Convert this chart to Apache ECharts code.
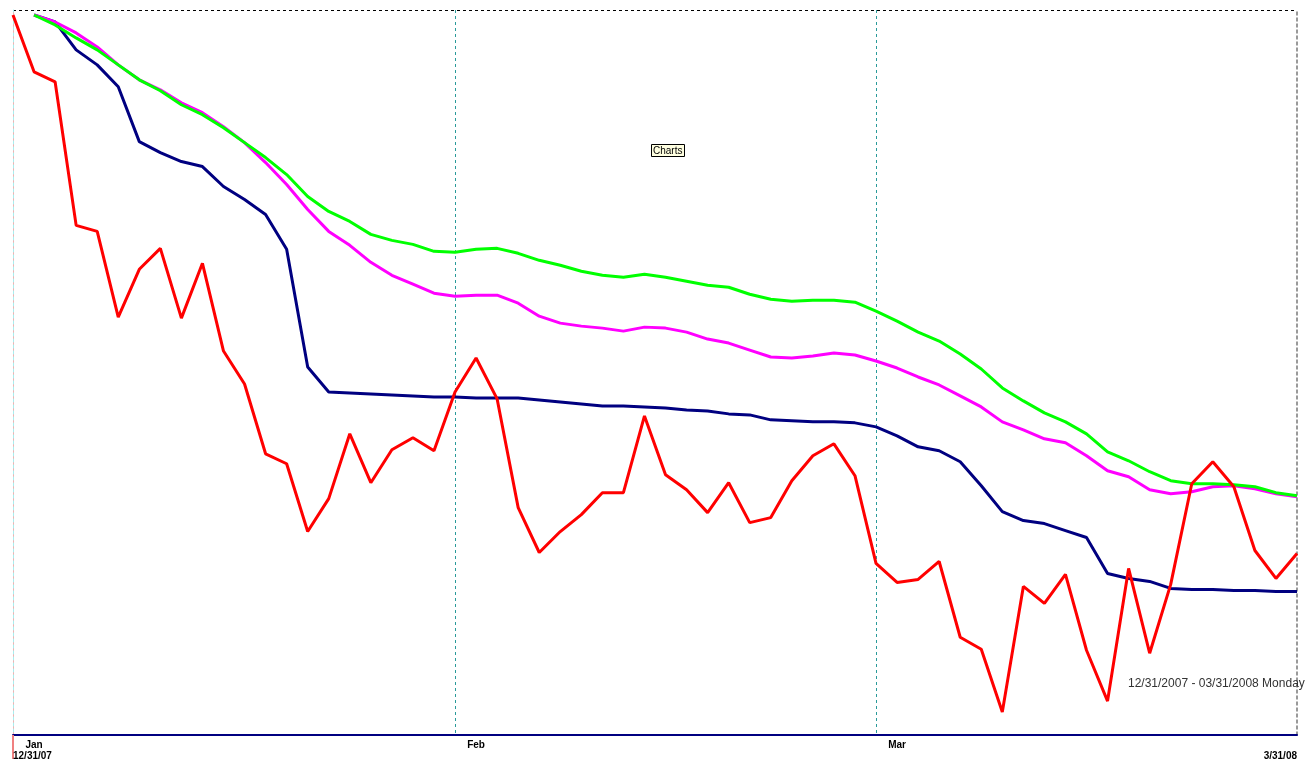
<!DOCTYPE html>
<html>
<head>
<meta charset="utf-8">
<script src="https://cdn.jsdelivr.net/npm/echarts@6/dist/echarts.min.js"></script>
<style>
  html, body { margin: 0; padding: 0; background: #ffffff; }
  #chart { width: 1305px; height: 761px; }
</style>
</head>
<body>
<div id="chart"></div>
<script>
// Trading days 12/31/2007 - 03/31/2008
const tradingDays = [
  '12/31/07',
  '1/2/08','1/3/08','1/4/08','1/7/08','1/8/08','1/9/08','1/10/08','1/11/08','1/14/08','1/15/08',
  '1/16/08','1/17/08','1/18/08','1/22/08','1/23/08','1/24/08','1/25/08','1/28/08','1/29/08','1/30/08','1/31/08',
  '2/1/08','2/4/08','2/5/08','2/6/08','2/7/08','2/8/08','2/11/08','2/12/08','2/13/08','2/14/08',
  '2/15/08','2/19/08','2/20/08','2/21/08','2/22/08','2/25/08','2/26/08','2/27/08','2/28/08','2/29/08',
  '3/3/08','3/4/08','3/5/08','3/6/08','3/7/08','3/10/08','3/11/08','3/12/08','3/13/08','3/14/08',
  '3/17/08','3/18/08','3/19/08','3/20/08','3/24/08','3/25/08','3/26/08','3/27/08','3/28/08','3/31/08'
];

// Month labels (first trading day of each month) and month-end separators
const monthLabels = { 1: 'Jan', 22: 'Feb', 42: 'Mar' };
const monthEndIdx = [21, 41];
const firstDateLabel = '12/31/07';
const lastDateLabel = '3/31/08';
const rangeLabel = '12/31/2007 - 03/31/2008 Monday';
const boxLabel = 'Charts';

// Series values (arbitrary index units; no y scale shown)
const redValues = [722, 665, 655, 511, 505, 419, 467, 488, 418, 473, 385, 352, 282, 272, 204, 237, 302, 253, 286, 298, 285,
  344, 378, 337, 228, 183, 204, 221, 243, 243, 320, 261, 246, 223, 253, 213, 218, 255, 280, 292, 260,
  172, 153, 156, 174, 98, 86, 23, 149, 132, 161, 85, 34, 167, 82, 151, 252, 274, 249, 185, 157, 182];

const navyValues = [null, 722, 715, 687, 672, 650, 595, 584, 575, 570, 550, 537, 522, 487, 369, 344, 343, 342, 341, 340, 339,
  339, 338, 338, 338, 336, 334, 332, 330, 330, 329, 328, 326, 325, 322, 321, 316, 315, 314, 314, 313,
  309, 300, 289, 285, 274, 250, 224, 215, 212, 205, 198, 162, 157, 154, 147, 146, 146, 145, 145, 144, 144];

const greenValues = [null, 722, 712, 699, 687, 672, 657, 646, 632, 622, 609, 594, 579, 562, 540, 525, 515, 502, 496, 492, 485,
  484, 487, 488, 483, 476, 471, 465, 461, 459, 462, 459, 455, 451, 449, 442, 437, 435, 436, 436, 434,
  425, 415, 404, 395, 382, 367, 348, 335, 323, 314, 302, 284, 275, 264, 255, 252, 252, 251, 249, 243, 240];

const magentaValues = [null, 722, 715, 704, 690, 672, 657, 647, 634, 624, 610, 594, 574, 552, 527, 505, 491, 474, 461, 452, 443,
  440, 441, 441, 433, 420, 413, 410, 408, 405, 409, 408, 404, 397, 393, 386, 379, 378, 380, 383, 381,
  375, 368, 359, 351, 340, 329, 314, 306, 297, 293, 280, 265, 259, 246, 242, 244, 249, 250, 247, 242, 239];

const yMax = 727;

const chart = echarts.init(document.getElementById('chart'), null, { renderer: 'canvas' });
const font = 'Liberation Sans, Arial, sans-serif';
const lineW = 3;

function lineSeries(name, data, color) {
  return {
    name: name, type: 'line', data: data, xAxisIndex: 0, yAxisIndex: 0,
    symbol: 'none', showSymbol: false, connectNulls: false,
    lineStyle: { color: color, width: lineW }, itemStyle: { color: color },
    emphasis: { disabled: true }, silent: true
  };
}

const option = {
  animation: false,
  backgroundColor: '#ffffff',
  textStyle: { fontFamily: font },
  title: [
    {
      text: boxLabel, left: 651, top: 144, padding: [2, 2, 1, 2],
      backgroundColor: '#ffffe1', borderColor: '#000000', borderWidth: 1,
      textStyle: { fontSize: 10, fontWeight: 'normal', color: '#000000', fontFamily: font }
    },
    {
      text: rangeLabel, left: 1128, top: 678, padding: 0,
      textStyle: { fontSize: 12, fontWeight: 'normal', color: '#333333', fontFamily: font }
    }
  ],
  grid: { left: 13, right: 8, top: 10, bottom: 24, containLabel: false },
  xAxis: [
    {
      type: 'category', data: tradingDays, boundaryGap: false, position: 'bottom',
      axisLine: { show: true, lineStyle: { color: '#000080', width: 2 } },
      axisTick: { show: true, interval: (i) => i === 0, length: 24, lineStyle: { color: '#f08080', width: 2 } },
      axisLabel: {
        show: true, interval: (i) => monthLabels[i] !== undefined,
        formatter: (v, i) => monthLabels[i] || '',
        fontSize: 10, fontWeight: 'bold', color: '#000000', margin: 5, fontFamily: font
      },
      splitLine: {
        show: true, interval: (i) => monthEndIdx.indexOf(i) >= 0,
        lineStyle: { color: '#2a9a9a', width: 1, type: [3, 3] }
      }
    },
    {
      type: 'category', data: tradingDays, boundaryGap: false, position: 'bottom',
      axisLine: { show: false }, axisTick: { show: false }, splitLine: { show: false },
      axisLabel: {
        show: true, interval: (i) => i === 0, formatter: () => firstDateLabel,
        align: 'left', fontSize: 10, fontWeight: 'bold', color: '#000000', margin: 16, fontFamily: font
      }
    },
    {
      type: 'category', data: tradingDays, boundaryGap: false, position: 'bottom',
      axisLine: { show: false }, axisTick: { show: false }, splitLine: { show: false },
      axisLabel: {
        show: true, interval: (i) => i === tradingDays.length - 1, formatter: () => lastDateLabel,
        align: 'right', fontSize: 10, fontWeight: 'bold', color: '#000000', margin: 16, fontFamily: font
      }
    }
  ],
  yAxis: [
    {
      type: 'value', min: 0, max: yMax, interval: yMax, position: 'left',
      axisLine: { show: true, lineStyle: { color: '#f4b0b0', width: 1, type: [3, 3] } },
      axisTick: { show: false }, axisLabel: { show: false },
      splitLine: { show: true, lineStyle: { color: '#000000', width: 1, type: [3, 3] } }
    },
    {
      type: 'value', min: 0, max: yMax, position: 'right',
      axisLine: { show: true, lineStyle: { color: '#7a7a7a', width: 1.5, type: [3, 3] } },
      axisTick: { show: false }, axisLabel: { show: false }, splitLine: { show: false }
    },
    {
      type: 'value', min: 0, max: yMax, position: 'left',
      axisLine: { show: true, lineStyle: { color: '#a8eeee', width: 1, type: [3, 3], dashOffset: 3 } },
      axisTick: { show: false }, axisLabel: { show: false }, splitLine: { show: false }
    }
  ],
  series: [
    lineSeries('Navy', navyValues, '#000080'),
    lineSeries('Magenta', magentaValues, '#ff00ff'),
    lineSeries('Green', greenValues, '#00ff00'),
    lineSeries('Red', redValues, '#ff0000')
  ]
};

chart.setOption(option);
</script>
</body>
</html>
